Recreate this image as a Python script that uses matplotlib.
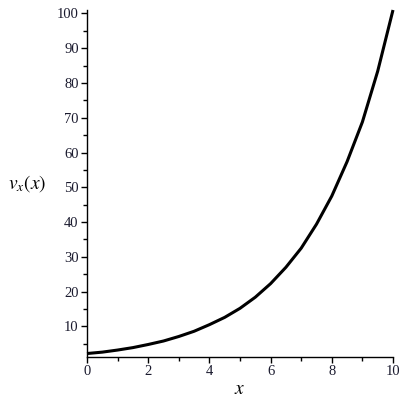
import matplotlib
matplotlib.use("Agg")
import matplotlib.pyplot as plt
from matplotlib.ticker import MultipleLocator

x_vals = [0, 0.5, 1, 1.5, 2, 2.5, 3, 3.5, 4, 4.5, 5, 5.5, 6, 6.5, 7, 7.5, 8, 8.5, 9, 9.5, 10]
v_vals = [2.2, 2.6, 3.2, 3.9, 4.8, 5.8, 7.1, 8.6, 10.5, 12.6, 15.2, 18.4, 22.3, 27.0,
          32.5, 39.4, 47.5, 57.4, 68.8, 83.4, 101.0]
x_ticks = [0, 2, 4, 6, 8, 10]
y_ticks = [10, 20, 30, 40, 50, 60, 70, 80, 90, 100]

plt.rcParams['mathtext.fontset'] = 'stix'

fig = plt.figure(figsize=(4.06, 4.03), dpi=100)
ax = fig.add_axes([87/406, 46/403, 306/406, 347/403])

ax.plot(x_vals, v_vals, color='black', linewidth=2.2, clip_on=False,
        solid_capstyle='butt', solid_joinstyle='round')

ax.set_xlim(0, 10)
ax.set_ylim(1.2, 101)
ax.set_xticks(x_ticks)
ax.set_yticks(y_ticks)
ax.xaxis.set_minor_locator(MultipleLocator(1))
ax.yaxis.set_minor_locator(MultipleLocator(5))

for s in ['top', 'right']:
    ax.spines[s].set_visible(False)
for s in ['left', 'bottom']:
    ax.spines[s].set_linewidth(1.0)
    ax.spines[s].set_color('black')

ax.tick_params(which='major', direction='out', length=4, width=1, color='black',
               labelsize=10.5, labelcolor='#1a1a2e', pad=2)
ax.tick_params(which='minor', direction='out', length=3, width=1, color='black')
for lab in ax.get_xticklabels() + ax.get_yticklabels():
    lab.set_fontfamily('Liberation Serif')

fig.text(240/406, 1 - 388/403, '$x$', ha='center', va='center', fontsize=14)
fig.text(27/406, 1 - 184/403, '$v_x(x)$', ha='center', va='center', fontsize=14)

fig.savefig('out.png', dpi=100)
